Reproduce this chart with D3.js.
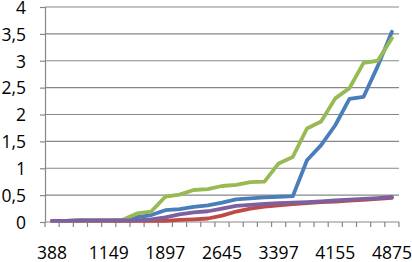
<!DOCTYPE html>
<html>
<head>
<meta charset="utf-8">
<script src="https://cdn.jsdelivr.net/npm/d3@7/dist/d3.min.js"></script>
<style>
  html, body { margin: 0; padding: 0; background: #fff; }
  svg { display: block; }
  text { font-family: "Open Sans", "Liberation Sans", sans-serif; fill: #000; }
</style>
</head>
<body>
<svg id="chart" width="412" height="262"></svg>
<script>
// Categories (only every 4th is labelled in the picture; others estimated)
const categories = [388, 578, 768, 959, 1149, 1336, 1523, 1710, 1897, 2084, 2271, 2458, 2645,
                    2833, 3021, 3209, 3397, 3587, 3776, 3966, 4155, 4335, 4515, 4695, 4875];
const shownLabels = [388, 1149, 1897, 2645, 3397, 4155, 4875];
const yTicks = [0, 0.5, 1, 1.5, 2, 2.5, 3, 3.5, 4];

const seriesBlue   = [0.02, 0.02, 0.03, 0.03, 0.03, 0.03, 0.09, 0.13, 0.22, 0.24, 0.28, 0.31, 0.36,
                      0.42, 0.44, 0.46, 0.47, 0.48, 1.15, 1.43, 1.80, 2.29, 2.33, 2.90, 3.54];
const seriesRed    = [0.02, 0.02, 0.02, 0.02, 0.02, 0.02, 0.02, 0.02, 0.02, 0.04, 0.05, 0.065, 0.12,
                      0.195, 0.25, 0.285, 0.31, 0.335, 0.35, 0.37, 0.38, 0.40, 0.41, 0.43, 0.45];
const seriesGreen  = [0.02, 0.02, 0.03, 0.03, 0.03, 0.04, 0.16, 0.195, 0.47, 0.51, 0.595, 0.61, 0.67,
                      0.69, 0.74, 0.75, 1.09, 1.21, 1.74, 1.87, 2.30, 2.49, 2.96, 3.00, 3.42];
const seriesPurple = [0.02, 0.02, 0.03, 0.03, 0.03, 0.03, 0.03, 0.05, 0.085, 0.14, 0.18, 0.20, 0.25,
                      0.30, 0.32, 0.335, 0.35, 0.36, 0.37, 0.385, 0.40, 0.415, 0.43, 0.445, 0.465];

const seriesList = [
  { values: seriesBlue,   color: "#4a7ebb" },
  { values: seriesRed,    color: "#be4b48" },
  { values: seriesGreen,  color: "#98b954" },
  { values: seriesPurple, color: "#7d60a0" }
];

const svg = d3.select("#chart");
const mLeft = 45, mRight = 399, mTop = 7, mBottom = 222;

const x = d3.scaleBand().domain(categories).range([mLeft, mRight]).padding(0);
const y = d3.scaleLinear().domain([0, 4]).range([mBottom, mTop]);
const cx = c => x(c) + x.bandwidth() / 2;

const gridColor = "#878787";

// Gridlines
svg.append("g").selectAll("line").data(yTicks.filter(d => d > 0)).join("line")
  .attr("x1", mLeft).attr("x2", mRight)
  .attr("y1", d => y(d)).attr("y2", d => y(d))
  .attr("stroke", gridColor).attr("stroke-width", 1.2);

// Y axis
const yAxis = svg.append("g").attr("transform", `translate(${mLeft},0)`)
  .call(d3.axisLeft(y).tickValues(yTicks).tickSize(5).tickPadding(14)
    .tickFormat(d => String(d).replace(".", ",")));
yAxis.select(".domain").attr("stroke", gridColor).attr("stroke-width", 1.2);
yAxis.selectAll(".tick line").attr("stroke", gridColor).attr("stroke-width", 1.2);
yAxis.selectAll(".tick text").attr("font-size", 17.5).attr("dy", "0.36em")
  .style("font-family", "'Open Sans', sans-serif").attr("fill", "#000");

// X axis line
svg.append("line").attr("x1", mLeft).attr("x2", mRight)
  .attr("y1", y(0)).attr("y2", y(0))
  .attr("stroke", gridColor).attr("stroke-width", 1.2);

// X tick marks at category boundaries
const boundaries = categories.map(c => x(c)).concat([mRight]);
svg.append("g").selectAll("line").data(boundaries).join("line")
  .attr("x1", d => d).attr("x2", d => d)
  .attr("y1", y(0)).attr("y2", y(0) + 5)
  .attr("stroke", gridColor).attr("stroke-width", 1.2);

// X labels
svg.append("g").selectAll("text").data(shownLabels).join("text")
  .attr("x", d => cx(d)).attr("y", 258.5)
  .attr("text-anchor", "middle").attr("font-size", 17.5)
  .text(d => d);

// Lines
const line = d3.line().x((d, i) => cx(categories[i])).y(d => y(d));
svg.append("g").selectAll("path").data(seriesList).join("path")
  .attr("d", s => line(s.values))
  .attr("fill", "none")
  .attr("stroke", s => s.color)
  .attr("stroke-width", 3.8)
  .attr("stroke-linejoin", "round")
  .attr("stroke-linecap", "round");
</script>
</body>
</html>
